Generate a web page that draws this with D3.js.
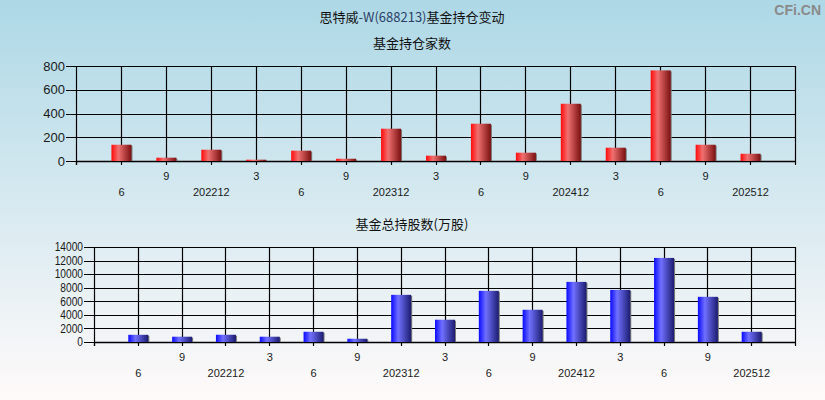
<!DOCTYPE html>
<html><head><meta charset="utf-8">
<script src="https://cdn.jsdelivr.net/npm/d3@7"></script>
<style>
html,body{margin:0;padding:0;}
svg{display:block;}
text{font-family:"Liberation Sans",Arial,sans-serif;}
.cn{font-family:"Noto Sans CJK SC","Liberation Sans",sans-serif;}
</style></head>
<body>
<script>
const quarterLabels = ["6","9","202212","3","6","9","202312","3","6","9","202412","3","6","9","202512"];
const fundCounts = [137, 28, 95, 11, 87, 19, 272, 45, 314, 70, 482, 112, 763, 137, 61];
const shareCounts = [1060, 780, 1070, 780, 1510, 480, 6950, 3280, 7540, 4750, 8860, 7680, 12390, 6660, 1510];
const countTicks = [0, 200, 400, 600, 800];
const shareTicks = [0, 2000, 4000, 6000, 8000, 10000, 12000, 14000];

const W = 825, H = 400;
const svg = d3.select("body").append("svg").attr("width", W).attr("height", H);
const defs = svg.append("defs");

const bg = defs.append("linearGradient").attr("id","bg").attr("x1",0).attr("y1",0).attr("x2",0).attr("y2",1);
bg.append("stop").attr("offset","0%").attr("stop-color","#add8e6");
bg.append("stop").attr("offset","100%").attr("stop-color","#fffafa");
svg.append("rect").attr("width",W).attr("height",H).attr("fill","url(#bg)");

function barGrad(id, c0, c1, c2) {
  const g = defs.append("linearGradient").attr("id", id).attr("x1",0).attr("y1",0).attr("x2",1).attr("y2",0);
  g.append("stop").attr("offset","0%").attr("stop-color",c0);
  g.append("stop").attr("offset","35%").attr("stop-color",c1);
  g.append("stop").attr("offset","100%").attr("stop-color",c2);
}
barGrad("gRed", "#ff0a0a", "#f07070", "#7a1010");
barGrad("gBlue", "#0a0aff", "#7070ff", "#1c1c70");

// titles
const t = svg.append("text").attr("class","cn").attr("x",412).attr("y",22)
  .attr("text-anchor","middle").attr("font-size",13).attr("fill","#111");
t.append("tspan").text("思特威");
t.append("tspan").attr("fill","#2b3f66").text("-W(688213)");
t.append("tspan").text("基金持仓变动");
svg.append("text").attr("x",821).attr("y",15).attr("text-anchor","end")
  .attr("font-size",14).attr("font-weight","bold").attr("fill","#8a8a8a").text("CFi.CN");

function drawChart(cfg) {
  const g = svg.append("g");
  const x = d3.scaleLinear().domain([0, quarterLabels.length + 1]).range([cfg.left, cfg.right]);
  const y = d3.scaleLinear().domain([0, cfg.max]).range([cfg.bottom, cfg.top]);

  g.append("text").attr("class","cn").attr("x",412).attr("y",cfg.titleY)
    .attr("text-anchor","middle").attr("font-size",13).attr("fill","#111").text(cfg.title);

  // horizontal grid
  g.selectAll(".hg").data(cfg.ticks).enter().append("line")
    .attr("x1", cfg.left - 10).attr("x2", cfg.right)
    .attr("y1", d => Math.round(y(d)) + 0.5).attr("y2", d => Math.round(y(d)) + 0.5)
    .attr("stroke","#000").attr("stroke-width",1.2);
  // vertical grid
  const vpos = d3.range(1, quarterLabels.length + 2);
  g.selectAll(".vg").data(vpos).enter().append("line")
    .attr("x1", d => Math.round(x(d)) + 0.5).attr("x2", d => Math.round(x(d)) + 0.5)
    .attr("y1", cfg.top).attr("y2", cfg.bottom)
    .attr("stroke","#000").attr("stroke-width",1.2);
  // x ticks below
  g.selectAll(".xt").data(d3.range(0, quarterLabels.length + 2)).enter().append("line")
    .attr("x1", d => Math.round(x(d)) + 0.5).attr("x2", d => Math.round(x(d)) + 0.5)
    .attr("y1", cfg.bottom).attr("y2", cfg.bottom + 4)
    .attr("stroke","#000").attr("stroke-width",1.2);
  // left axis
  g.append("line").attr("x1", cfg.left + 0.5).attr("x2", cfg.left + 0.5)
    .attr("y1", cfg.top).attr("y2", cfg.bottom + 4).attr("stroke","#000").attr("stroke-width",1.2);
  g.append("line").attr("x1", cfg.left).attr("x2", cfg.right)
    .attr("y1", Math.round(y(0)) + 0.5).attr("y2", Math.round(y(0)) + 0.5)
    .attr("stroke","#000").attr("stroke-width",1.5);

  // y tick labels
  g.selectAll(".yl").data(cfg.ticks).enter().append("text")
    .attr("x", cfg.left - 11).attr("y", d => y(d)).attr("dy","0.36em")
    .attr("text-anchor","end").attr("font-size",cfg.yFont).attr("fill","#1a1a1a")
    .attr("transform", d => cfg.yScaleX ? `translate(${cfg.left - 11},0) scale(${cfg.yScaleX},1) translate(${-(cfg.left - 11)},0)` : null)
    .text(d => d);

  // bars
  const bw = 20;
  const data = cfg.values.map((v, i) => ({v, i}));
  g.selectAll(".sh").data(data).enter().append("rect")
    .attr("x", d => x(d.i + 1) - bw/2 + 1.5).attr("y", d => y(d.v) + 1)
    .attr("width", bw).attr("height", d => Math.max(0, y(0) - y(d.v) - 1))
    .attr("fill","#7a7a7a");
  g.selectAll(".br").data(data).enter().append("rect")
    .attr("x", d => x(d.i + 1) - bw/2 + 0.5).attr("y", d => y(d.v))
    .attr("width", bw).attr("height", d => y(0) - y(d.v))
    .attr("fill", cfg.fill);

  // x labels
  g.selectAll(".xl").data(quarterLabels).enter().append("text")
    .attr("x", (d, i) => x(i + 1) + 0.5)
    .attr("y", (d, i) => i % 2 === 0 ? cfg.bottom + 31 : cfg.bottom + 15)
    .attr("dy","0.36em").attr("text-anchor","middle").attr("font-size",11).attr("fill","#1a1a1a")
    .text(d => d);
}

drawChart({title:"基金持仓家数", titleY:48, left:76, right:795, top:66, bottom:161,
  max:800, ticks:countTicks, values:fundCounts, fill:"url(#gRed)", yFont:13});
drawChart({title:"基金总持股数(万股)", titleY:229, left:94, right:795, top:247, bottom:342,
  max:14000, ticks:shareTicks, values:shareCounts, fill:"url(#gBlue)", yFont:12, yScaleX:0.85});
</script>
</body></html>
